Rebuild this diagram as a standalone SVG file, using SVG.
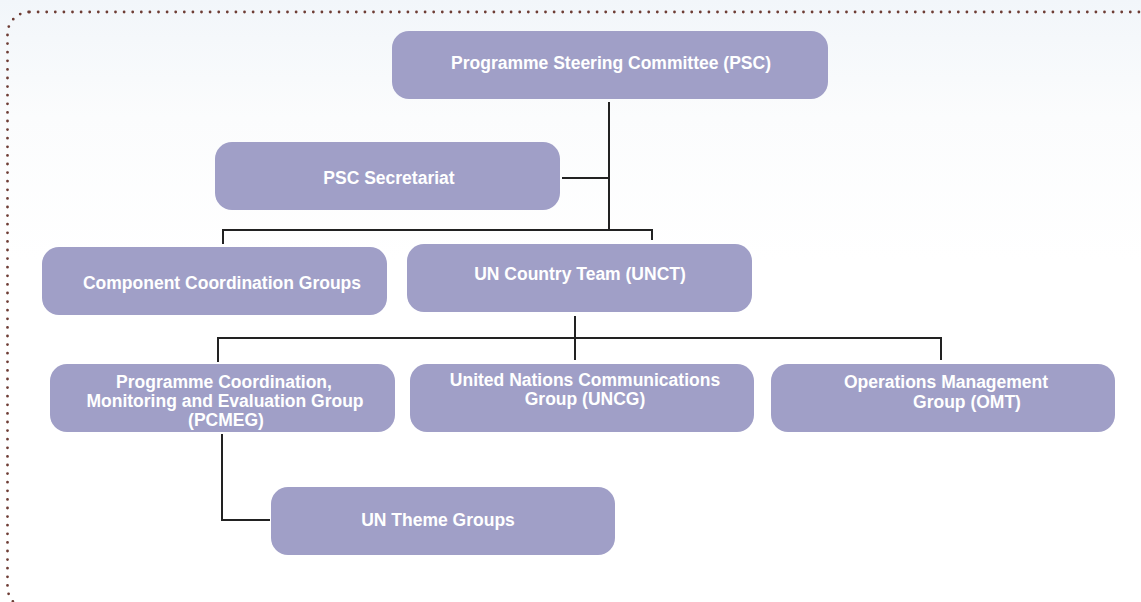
<svg xmlns="http://www.w3.org/2000/svg" width="1141" height="602" viewBox="0 0 1141 602">
<style>
.node rect{fill:#a09fc7;}
.node text{fill:#ffffff;font-family:"Liberation Sans",Arial,sans-serif;font-weight:bold;font-size:17.5px;text-anchor:middle;}
.conn path{fill:none;stroke:#222;stroke-width:2;}
</style>
<defs>
<linearGradient id="bg" x1="0" y1="0" x2="0" y2="1">
<stop offset="0" stop-color="#f2f6fa"/>
<stop offset="0.45" stop-color="#fbfcfd"/>
<stop offset="1" stop-color="#ffffff"/>
</linearGradient>
</defs>
<rect x="0" y="0" width="1141" height="602" fill="#ffffff"/>
<rect x="0" y="0" width="1141" height="260" fill="url(#bg)"/>
<rect x="7.5" y="12" width="1160" height="597" rx="22" fill="none" stroke="#6e3d35" stroke-width="2.8" stroke-linecap="round" stroke-dasharray="0 8.6"/>
<g class="conn">
<path d="M609 102V230"/>
<path d="M562 178H609"/>
<path d="M223 244V230H652V240"/>
<path d="M575 316V360"/>
<path d="M218 362V338H941V360"/>
<path d="M222 434V520H270"/>
</g>
<g id="psc" class="node"><rect x="392" y="31" width="436" height="68" rx="17"/><text x="611" y="69">Programme Steering Committee (PSC)</text></g>
<g id="secretariat" class="node"><rect x="215" y="142" width="345" height="68" rx="17"/><text x="389" y="184">PSC Secretariat</text></g>
<g id="ccg" class="node"><rect x="42" y="247" width="345" height="68" rx="17"/><text x="222" y="289">Component Coordination Groups</text></g>
<g id="unct" class="node"><rect x="407" y="244" width="345" height="68" rx="17"/><text x="580" y="280">UN Country Team (UNCT)</text></g>
<g id="pcmeg" class="node"><rect x="50" y="364" width="345" height="68" rx="17"/><text x="224" y="388">Programme Coordination,</text><text x="225" y="407">Monitoring and Evaluation Group</text><text x="226" y="426">(PCMEG)</text></g>
<g id="uncg" class="node"><rect x="410" y="364" width="344" height="68" rx="17"/><text x="585" y="386">United Nations Communications</text><text x="585" y="405">Group (UNCG)</text></g>
<g id="omt" class="node"><rect x="771" y="364" width="344" height="68" rx="17"/><text x="946" y="388">Operations Management</text><text x="967" y="408">Group (OMT)</text></g>
<g id="theme" class="node"><rect x="271" y="487" width="344" height="68" rx="17"/><text x="438" y="526">UN Theme Groups</text></g>
</svg>
